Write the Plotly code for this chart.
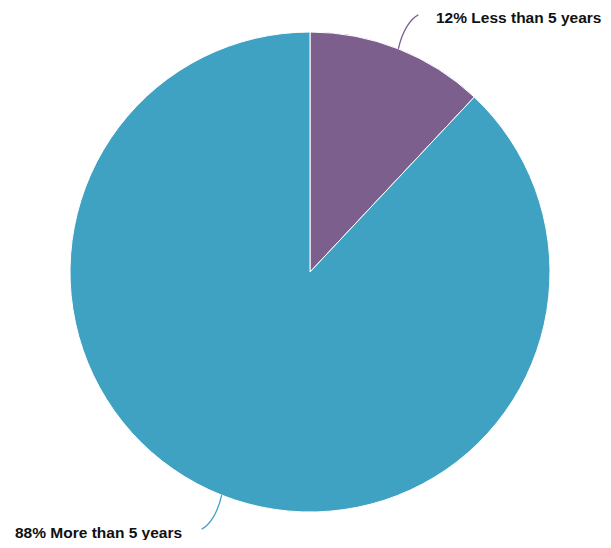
import numpy as np
import plotly.graph_objects as go

labels = ["Less than 5 years", "More than 5 years"]
values = [12, 88]
colors = ["#7c5f8d", "#40a2c2"]

OFF = 8                          # default page body margin
W, H = 611 - OFF, 548 - 2 * OFF  # figure size that fits the window
cx, cy, r = 310 - OFF, 272 - OFF, 240  # pie centre / radius in figure pixels

fig = go.Figure(go.Pie(
    labels=labels, values=values, sort=False, direction="clockwise", rotation=0,
    marker=dict(colors=colors, line=dict(color="white", width=1)),
    textinfo="none", hoverinfo="label+percent", showlegend=False,
    domain=dict(x=[(cx - r) / W, (cx + r) / W], y=[1 - (cy + r) / H, 1 - (cy - r) / H]),
))

def px(x, y):
    return x / W, 1 - y / H

total = sum(values)
cum = 0
shapes, annotations = [], []
for lab, v, col in zip(labels, values, colors):
    mid = (cum + v / 2) / total * 2 * np.pi
    cum += v
    s, c = np.sin(mid), np.cos(mid)
    x0, y0 = cx + r * s, cy - r * c
    hx = 1 if s >= 0 else -1
    vy = -1 if c >= 0 else 1
    x1, y1 = x0 + 20 * hx, y0 + 34 * vy
    c1x, c1y = x0 + 4 * hx, y0 + 18 * vy
    c2x, c2y = x1 - 8 * hx, y1 - 4 * vy
    pts = [px(x0, y0), px(c1x, c1y), px(c2x, c2y), px(x1, y1)]
    path = "M {:.5f},{:.5f} C {:.5f},{:.5f} {:.5f},{:.5f} {:.5f},{:.5f}".format(*[q for p in pts for q in p])
    shapes.append(dict(type="path", path=path, xref="paper", yref="paper",
                       line=dict(color=col, width=1.3)))
    pct = round(v / total * 100)
    tx, ty = px(x1 + (16 if hx > 0 else -18), y1 + (3 if vy < 0 else 3.5))
    annotations.append(dict(x=tx, y=ty, xref="paper", yref="paper",
                            text=f"<b>{pct}% {lab}</b>", showarrow=False,
                            xanchor="left" if hx > 0 else "right", yanchor="middle",
                            font=dict(family="Liberation Sans, Arial, sans-serif", size=15.5, color="#111111")))

fig.update_layout(
    width=W, height=H, margin=dict(l=0, r=0, t=0, b=0),
    paper_bgcolor="white", plot_bgcolor="white",
    shapes=shapes, annotations=annotations,
)
fig.write_html("out.html")
